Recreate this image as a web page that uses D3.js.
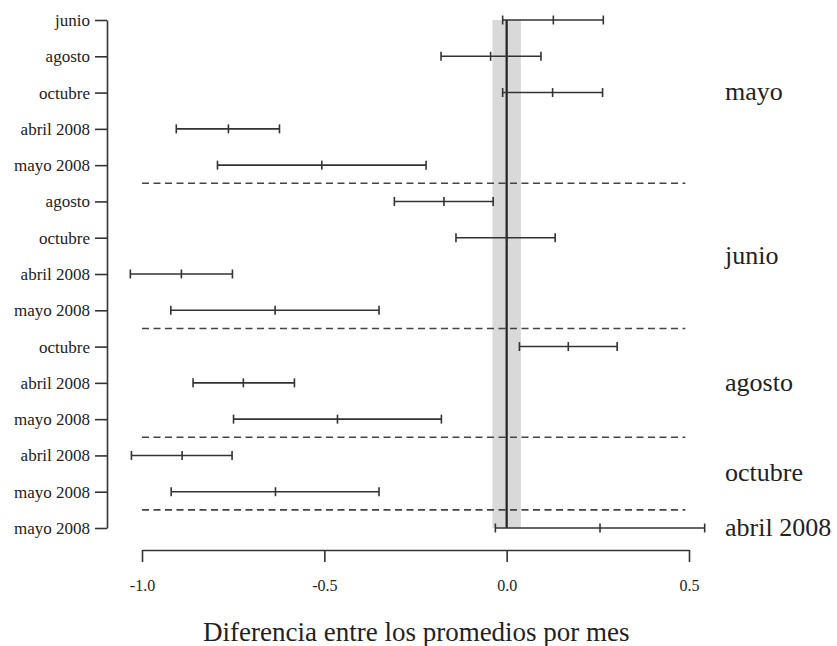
<!DOCTYPE html>
<html>
<head>
<meta charset="utf-8">
<script src="https://cdn.jsdelivr.net/npm/d3@7"></script>
<style>
  html, body { margin: 0; padding: 0; background: #fff; }
  svg text { font-family: "Liberation Serif", "DejaVu Serif", serif; fill: #222; }
</style>
</head>
<body>
<svg id="chart" width="837" height="646"></svg>
<script>
// Reference month of each comparison (group)
const groups = ["mayo", "junio", "agosto", "octubre", "abril 2008"];
// Comparison month for each row (top to bottom)
const rowLabels = [
  "junio", "agosto", "octubre", "abril 2008", "mayo 2008",
  "agosto", "octubre", "abril 2008", "mayo 2008",
  "octubre", "abril 2008", "mayo 2008",
  "abril 2008", "mayo 2008",
  "mayo 2008"
];
const rowGroup = [
  "mayo", "mayo", "mayo", "mayo", "mayo",
  "junio", "junio", "junio", "junio",
  "agosto", "agosto", "agosto",
  "octubre", "octubre",
  "abril 2008"
];
// Differences between means: lower bound, estimate, upper bound
const lower = [-0.011, -0.180, -0.011, -0.906, -0.793, -0.308, -0.139, -1.032, -0.921, 0.035, -0.860, -0.749, -1.029, -0.920, -0.031];
const estimate = [0.128, -0.044, 0.126, -0.763, -0.507, -0.172, 0.000, -0.892, -0.635, 0.169, -0.722, -0.464, -0.890, -0.634, 0.256];
const upper = [0.265, 0.094, 0.263, -0.623, -0.221, -0.037, 0.133, -0.752, -0.350, 0.303, -0.582, -0.179, -0.753, -0.350, 0.543];
// Equivalence band around zero
const band = [-0.039, 0.039];
const xTicks = [-1.0, -0.5, 0.0, 0.5];
const xDomain = [-1.0, 0.5];
const dashEnd = 0.49;
const xTitle = "Diferencia entre los promedios por mes";

const serif = "'Liberation Serif', 'DejaVu Serif', serif";
const svg = d3.select("#chart");
const x = d3.scaleLinear().domain(xDomain).range([142, 689]);
const y = d3.scaleLinear().domain([0, rowLabels.length - 1]).range([20, 528]);
const ink = "#333";

// gray band
svg.append("rect")
  .attr("x", x(band[0])).attr("width", x(band[1]) - x(band[0]))
  .attr("y", y(0)).attr("height", y(rowLabels.length - 1) - y(0))
  .attr("fill", "#d9d9d9");

// dashed separators between groups
const sepIdx = [];
for (let i = 1; i < rowGroup.length; i++) if (rowGroup[i] !== rowGroup[i - 1]) sepIdx.push(i - 0.5);
svg.selectAll("line.sep").data(sepIdx).enter().append("line")
  .attr("class", "sep")
  .attr("x1", x(xDomain[0])).attr("x2", x(dashEnd))
  .attr("y1", d => y(d)).attr("y2", d => y(d))
  .attr("stroke", "#444").attr("stroke-width", 1.6)
  .attr("stroke-dasharray", "7,4.5");

// zero line
svg.append("line")
  .attr("x1", x(0)).attr("x2", x(0))
  .attr("y1", y(0)).attr("y2", y(rowLabels.length - 1))
  .attr("stroke", "#222").attr("stroke-width", 2.2);

// intervals
const rows = rowLabels.map((l, i) => ({ i, lo: lower[i], est: estimate[i], hi: upper[i] }));
const g = svg.append("g");
g.selectAll("line.ci").data(rows).enter().append("line")
  .attr("x1", d => x(d.lo)).attr("x2", d => x(d.hi))
  .attr("y1", d => y(d.i)).attr("y2", d => y(d.i))
  .attr("stroke", ink).attr("stroke-width", 1.6);
["lo", "est", "hi"].forEach(k => {
  g.selectAll("line.t" + k).data(rows).enter().append("line")
    .attr("x1", d => x(d[k])).attr("x2", d => x(d[k]))
    .attr("y1", d => y(d.i) - 4.5).attr("y2", d => y(d.i) + 4.5)
    .attr("stroke", ink).attr("stroke-width", 1.6);
});

// y axis
const yAxis = d3.axisLeft(y).tickValues(d3.range(rowLabels.length))
  .tickFormat(i => rowLabels[i]).tickSize(12).tickPadding(5).tickSizeOuter(0);
const ya = svg.append("g").attr("transform", "translate(107,0)").call(yAxis);
ya.attr("font-family", null);
ya.select(".domain").attr("stroke", ink).attr("stroke-width", 1.6);
ya.selectAll(".tick line").attr("stroke", ink).attr("stroke-width", 1.6);
ya.selectAll(".tick text").style("font-size", "17px").style("font-family", serif).style("fill", "#222");

// x axis
const xAxis = d3.axisBottom(x).tickValues(xTicks).tickFormat(d => d.toFixed(1))
  .tickSize(12).tickPadding(18).tickSizeOuter(0);
const xa = svg.append("g").attr("transform", "translate(0,550)").call(xAxis);
xa.attr("font-family", null);
xa.select(".domain").attr("stroke", ink).attr("stroke-width", 1.6);
xa.selectAll(".tick line").attr("stroke", ink).attr("stroke-width", 1.6);
xa.selectAll(".tick text").style("font-size", "16px").style("font-family", serif).style("fill", "#222");

// group labels on the right
const groupPos = groups.map(gname => {
  const idx = rowGroup.map((r, i) => r === gname ? i : null).filter(v => v !== null);
  return { name: gname, pos: d3.mean(idx) };
});
svg.selectAll("text.grp").data(groupPos).enter().append("text")
  .attr("x", 725).attr("y", d => y(d.pos))
  .attr("dy", "0.3em")
  .style("font-size", "26px").style("font-family", serif)
  .text(d => d.name);

// x title
svg.append("text")
  .attr("x", x(-1.0) + 61).attr("y", 641)
  .style("font-size", "27px").style("font-family", serif)
  .text(xTitle);
</script>
</body>
</html>
